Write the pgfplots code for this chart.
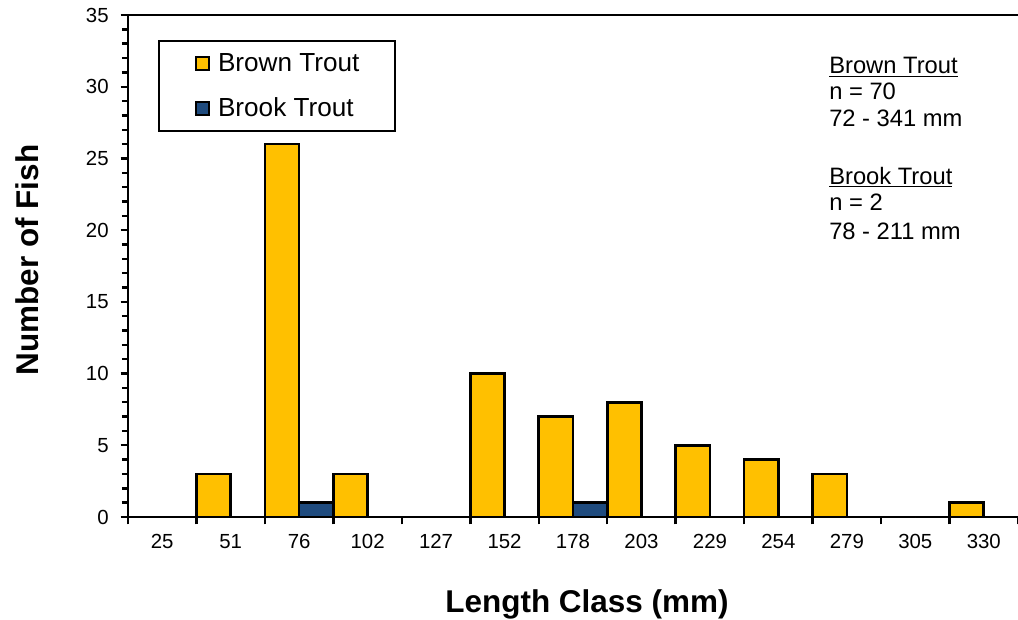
\documentclass[border=0pt]{standalone}
\usepackage{fontspec}
\setmainfont{Liberation Sans}
\usepackage{pgfplots}
\pgfplotsset{compat=1.18}
\definecolor{brown}{HTML}{FFC000}
\definecolor{brook}{HTML}{1F4B7E}

% counts per length class, class index 0..12
\pgfplotstableread{
x y
0 0
1 3
2 26
3 3
4 0
5 10
6 7
7 8
8 5
9 4
10 3
11 0
12 1
}\browntab
\pgfplotstableread{
x y
2 1
6 1
}\brooktab

\begin{document}
\begin{tikzpicture}
\begin{axis}[at={(0,0)}, anchor=south west, scale only axis,
  width=667.5pt, height=376.5pt,
  xmin=-0.5, xmax=12.5, ymin=0, ymax=35,
  axis lines*=left, axis line style={line width=2.2pt},
  tick align=outside, tick style={black, line width=1.8pt},
  xtick={-0.5,0.5,...,12.5}, x tick label as interval,
  xticklabels={25,51,76,102,127,152,178,203,229,254,279,305,330},
  ytick={0,5,...,35}, minor y tick num=4,
  major tick length=5.5pt, minor tick length=4.5pt,
  /pgf/number format/assume math mode=true,
  tick label style={font=\fontsize{15.3}{15.3}\selectfont},
  xticklabel style={yshift=-4pt},
  yticklabel style={xshift=-5.5pt},
  xlabel={Length Class (mm)}, ylabel={Number of Fish},
  label style={font=\bfseries\fontsize{23.6}{23.6}\selectfont},
  xlabel style={at={(axis description cs:0.5157,0)}, anchor=base, yshift=-71.25pt},
  ylabel style={at={(axis description cs:-0.1135,0.512)}, anchor=center},
  legend style={at={(22.5pt,357.75pt)}, anchor=north west, draw=black,
    line width=1.4pt, inner xsep=27pt, inner ysep=0pt,
    font=\fontsize{19.6}{19.6}\selectfont,
    nodes={minimum height=33.75pt, inner sep=0pt},
    /tikz/every odd column/.append style={column sep=6pt}},
  legend cell align=left,
  legend image code/.code={\draw[#1, line width=1.6pt] (0pt,-4.9pt) rectangle (9.75pt,4.9pt);},
  clip=false]
\addplot[ybar, bar width=0.5, bar shift=-0.25, fill=brown, draw=black,
  line width=2pt] table {\browntab};
\addlegendentry{Brown Trout}
\addplot[ybar, bar width=0.5, bar shift=0.25, fill=brook, draw=black,
  line width=2pt] table {\brooktab};
\addlegendentry{Brook Trout}
\draw[line width=2.2pt] (rel axis cs:0,1) -- (rel axis cs:1,1);
\end{axis}
\begin{scope}[every node/.style={anchor=base west, inner sep=0pt,
  font=\fontsize{17.8}{20.25}\selectfont}]
\node at (525.75pt,332.25pt) {\underline{Brown Trout}};
\node at (525.75pt,312.75pt) {n = 70};
\node at (525.75pt,292.5pt) {72 - 341 mm};
\node at (525.75pt,249.75pt) {\underline{Brook Trout}};
\node at (525.75pt,229.5pt) {n = 2};
\node at (525.75pt,208.5pt) {78 - 211 mm};
\end{scope}
\pgfresetboundingbox
\path[use as bounding box] (-96pt,-76.5pt) rectangle (667.5pt,387.75pt);
\end{tikzpicture}
\end{document}
